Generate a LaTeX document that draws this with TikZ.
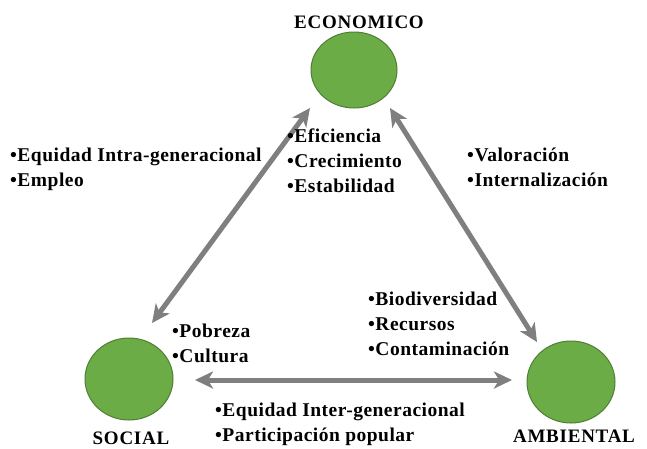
\documentclass[tikz,border=0pt]{standalone}
\usepackage{fontspec}
\setmainfont{Liberation Serif}
\usetikzlibrary{arrows.meta,shapes.geometric}
\definecolor{circfill}{HTML}{6CAC46}
\definecolor{circline}{HTML}{4F7F33}
\definecolor{arrgray}{HTML}{7F7F7F}
\tikzset{
  pillar/.style={ellipse, draw=circline, line width=1pt, fill=circfill, inner sep=0pt},
  dimlabel/.style={font=\fontsize{19}{20}\selectfont\bfseries\addfontfeature{LetterSpace=4}, inner sep=0pt},
  itemlist/.style={font=\fontsize{19.5}{25}\selectfont\bfseries\addfontfeature{LetterSpace=2.5}, align=left, anchor=north west, inner sep=0pt},
  link/.style={draw=arrgray, line width=5pt, {Stealth[length=18pt,width=17pt,inset=5pt]}-{Stealth[length=18pt,width=17pt,inset=5pt]}}
}
\begin{document}
\begin{tikzpicture}[x=1pt,y=-1pt]
\useasboundingbox[fill=white] (0,0) rectangle (647,448);
% circles
\node[pillar, minimum width=86pt, minimum height=76pt] (eco) at (354,70) {};
\node[pillar, minimum width=88pt, minimum height=82pt] (soc) at (129,379) {};
\node[pillar, minimum width=88pt, minimum height=82pt] (amb) at (571,382) {};
% labels
\node[dimlabel] (ecoL) at (359,22) {ECONOMICO};
\node[dimlabel] (socL) at (131,438) {SOCIAL};
\node[dimlabel] (ambL) at (574,436) {AMBIENTAL};
% arrow end points
\coordinate (a1) at (152,323);
\coordinate (a2) at (310,108);
\coordinate (b1) at (390,108);
\coordinate (b2) at (537,342);
\coordinate (c1) at (195,380);
\coordinate (c2) at (512,380);
\draw[link] (a1) -- (a2);
\draw[link] (b1) -- (b2);
\draw[link] (c1) -- (c2);
% item lists
\node[itemlist] (t1) at (10,148) {•Equidad Intra-generacional\\•Empleo};
\node[itemlist] (t2) at (287,129) {•Eficiencia\\•Crecimiento\\•Estabilidad};
\node[itemlist] (t3) at (467,148) {•Valoración\\•Internalización};
\node[itemlist] (t4) at (368,292) {•Biodiversidad\\•Recursos\\•Contaminación};
\node[itemlist] (t5) at (172,324) {•Pobreza\\•Cultura};
\node[itemlist] (t6) at (215,403) {•Equidad Inter-generacional\\•Participación popular};
\end{tikzpicture}
\end{document}
